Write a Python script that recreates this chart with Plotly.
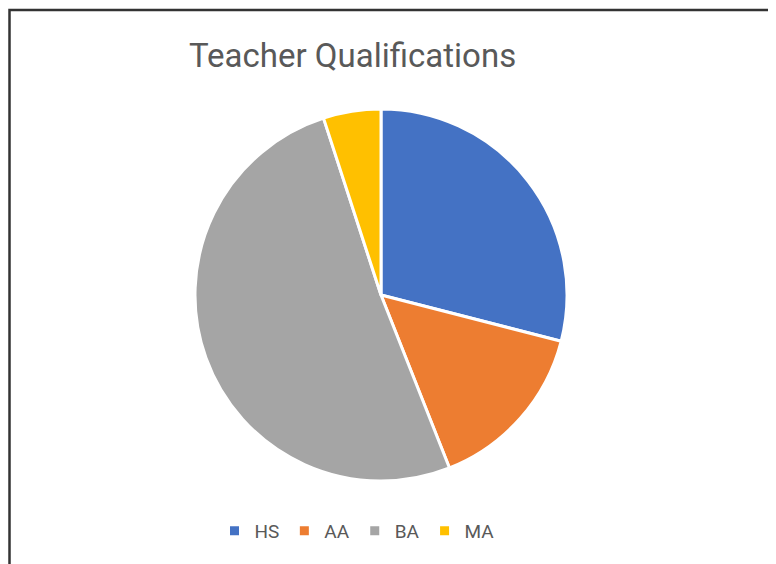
import plotly.graph_objects as go

categories = ["HS", "AA", "BA", "MA"]
values = [29, 15, 51, 5]
colors = ["#4472C4", "#ED7D31", "#A5A5A5", "#FFC000"]

W, H = 776, 564
OFF = 8  # default page body margin offset


def px(x):
    return (x - OFF) / W


def py(y):
    return 1 - (y - OFF) / H


FONT = "Roboto, Arial, sans-serif"

fig = go.Figure(go.Pie(
    labels=categories,
    values=values,
    marker=dict(colors=colors, line=dict(color="white", width=3)),
    sort=False,
    direction="clockwise",
    rotation=0,
    textinfo="none",
    hoverinfo="label+value",
    domain=dict(x=[px(195), px(567)], y=[py(481), py(109)]),
))

fig.add_annotation(
    text="Teacher Qualifications",
    x=px(352), y=py(55), xref="paper", yref="paper",
    xanchor="center", yanchor="middle", showarrow=False,
    font=dict(family=FONT, size=33, color="#595959"),
)

fig.add_shape(
    type="rect", xref="paper", yref="paper",
    x0=px(9.5), x1=1.2, y0=-0.2, y1=py(10),
    line=dict(color="#333333", width=2.5),
    fillcolor="rgba(0,0,0,0)",
)

fig.update_layout(
    width=W, height=H,
    margin=dict(l=0, r=0, t=0, b=0),
    paper_bgcolor="white",
    plot_bgcolor="white",
    showlegend=True,
    legend=dict(
        orientation="h", x=px(357), xanchor="center",
        y=py(531), yanchor="middle",
        font=dict(family=FONT, size=19, color="#595959"),
        itemwidth=30, traceorder="normal",
    ),
)

fig.write_html("out.html")
